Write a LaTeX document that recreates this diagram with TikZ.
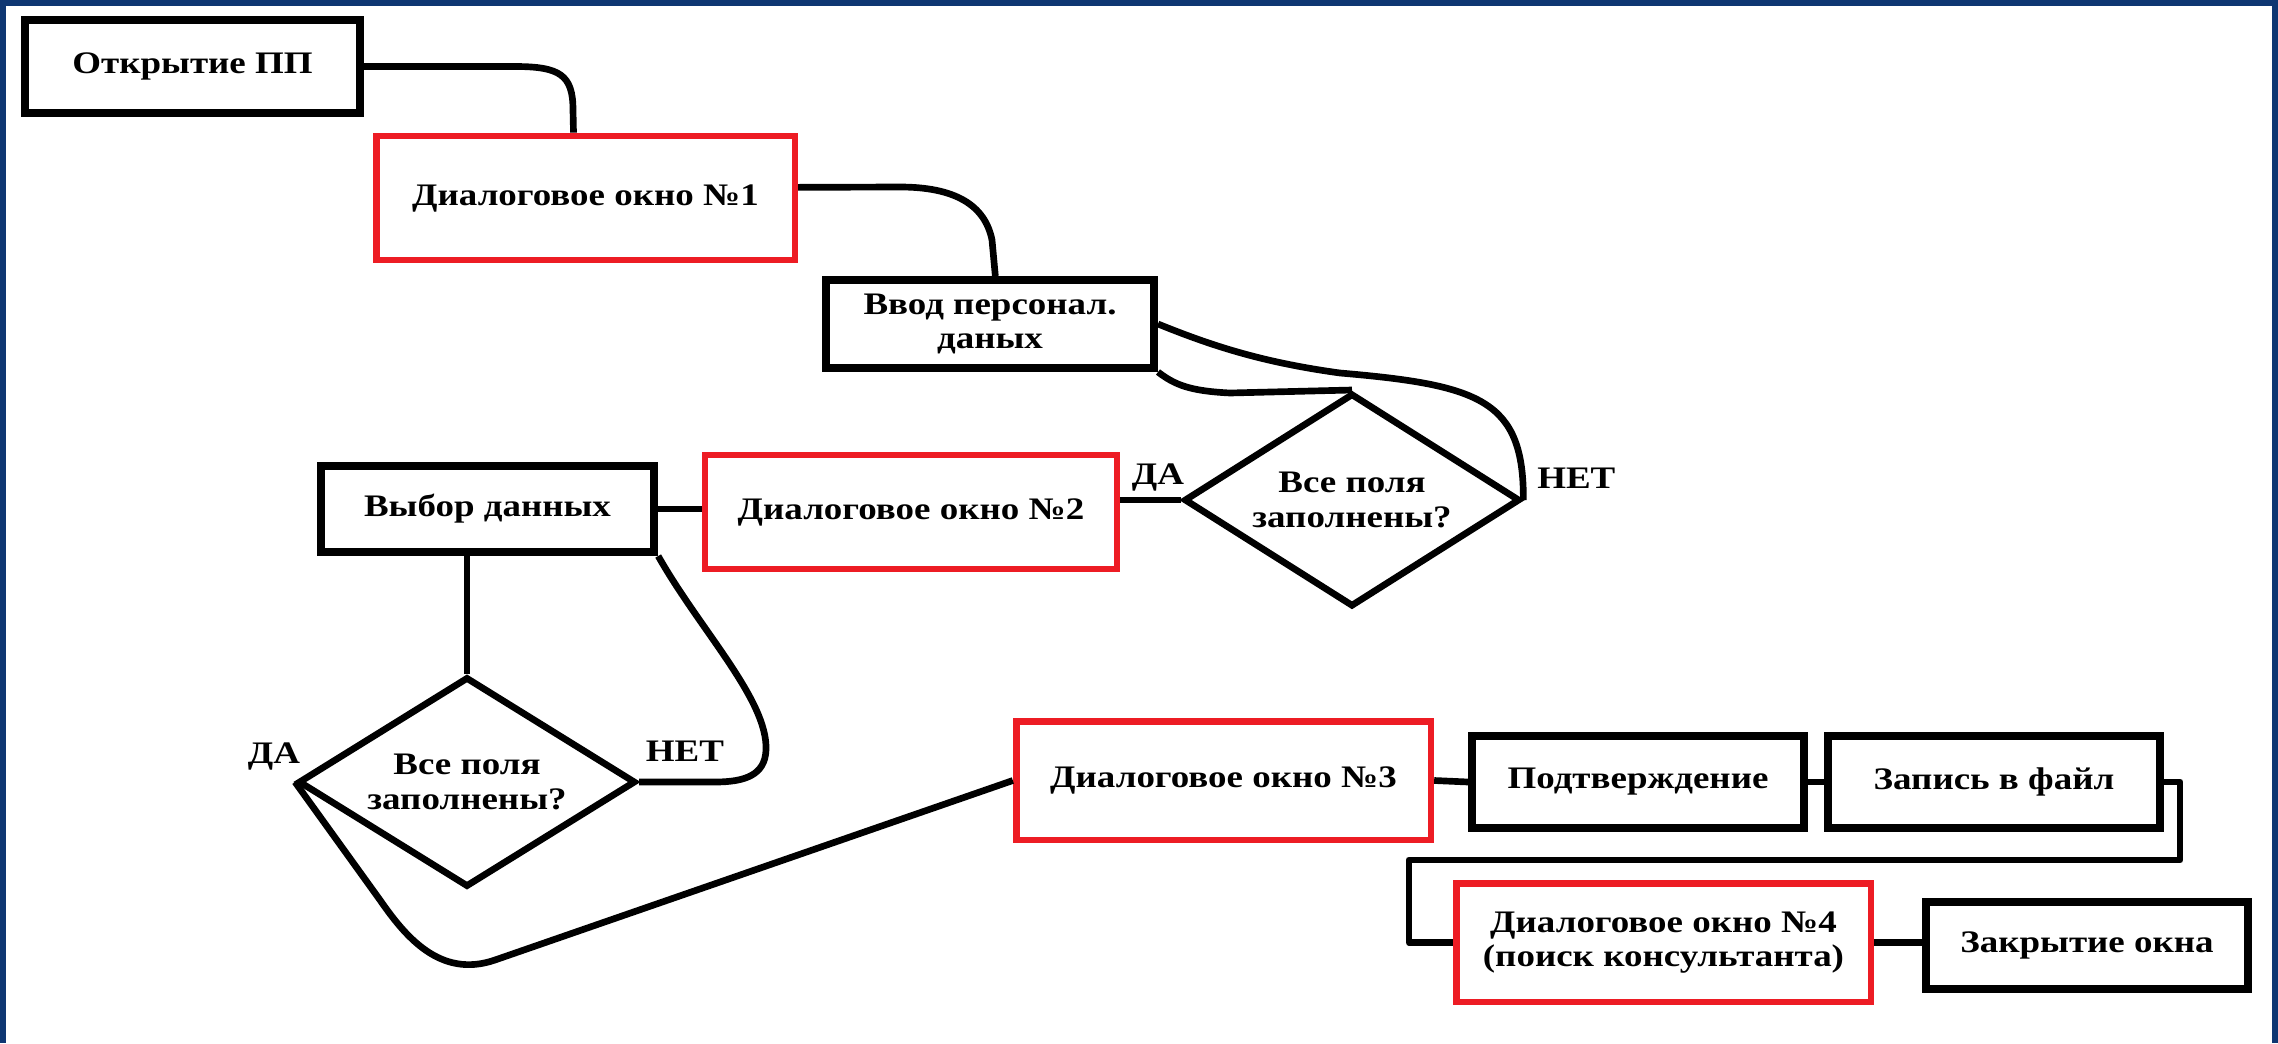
\documentclass[tikz,border=0pt]{standalone}
\usepackage{fontspec}
\setmainfont[FakeStretch=1.18]{Liberation Serif}
\usepackage{tikz}
\usetikzlibrary{shapes.geometric}
\definecolor{frameblue}{HTML}{0E3672}
\definecolor{boxred}{HTML}{ED1C24}

\begin{document}
\begin{tikzpicture}[x=0.75pt,y=0.75pt,yscale=-1,xscale=1,
  blk/.style={draw=black,line width=6pt,fill=white,inner sep=0pt,align=center,font=\fontsize{23.5}{26}\bfseries\selectfont},
  redblk/.style={blk,draw=boxred,line width=5pt},
  rhomb/.style={blk,diamond,aspect=1.6,line width=5pt},
  wire/.style={line width=5pt,line join=round},
  lbl/.style={inner sep=0pt,font=\fontsize{23.5}{26}\bfseries\selectfont}]
%set diagram size: 2278 x 1043
\fill[white] (0,0) rectangle (2278,1043);
\useasboundingbox (0,0) rectangle (2278,1043);

%Shape: Frame
\fill[frameblue] (0,0) rectangle (2278,6);
\fill[frameblue] (0,0) rectangle (6,1043);
\fill[frameblue] (2272,0) rectangle (2278,1043);

%Shape: Boxes
\node[blk,minimum width=251pt,minimum height=70pt] (open) at (192.5,66.5) {Открытие ПП};
\node[redblk,minimum width=314pt,minimum height=93pt] (dlg1) at (585.5,198) {Диалоговое окно №1};
\node[blk,minimum width=246pt,minimum height=66pt] (input) at (990,324) {Ввод персонал.\\даных};
\node[rhomb,minimum width=252pt,minimum height=160pt] (chk1) at (1352,500) {Все поля\\заполнены?};
\node[redblk,minimum width=309pt,minimum height=85.5pt] (dlg2) at (911,512) {Диалоговое окно №2};
\node[blk,minimum width=250pt,minimum height=64.5pt] (select) at (487.5,509) {Выбор данных};
\node[rhomb,minimum width=253pt,minimum height=157.5pt] (chk2) at (467,782) {Все поля\\заполнены?};
\node[redblk,minimum width=311pt,minimum height=89pt] (dlg3) at (1223.5,780.5) {Диалоговое окно №3};
\node[blk,minimum width=249pt,minimum height=69pt] (confirm) at (1638,782) {Подтверждение};
\node[blk,minimum width=249pt,minimum height=69pt] (save) at (1994,782) {Запись в файл};
\node[redblk,minimum width=311pt,minimum height=89pt] (dlg4) at (1663.5,942.5) {Диалоговое окно №4\\(поиск консультанта)};
\node[blk,minimum width=242pt,minimum height=65pt] (close) at (2087,945.5) {Закрытие окна};

%Curve Lines
\draw[wire] (open.east) -- (515,66.5) .. controls (560,66.5) and (573,75) .. (573,110) -- ([xshift=-9pt]dlg1.north);
\draw[wire] ([yshift=-8pt]dlg1.east) -- (900,187) .. controls (955,187) and (985,205) .. (992,240) -- ([xshift=4pt]input.north);
\draw[wire] (input.south east) .. controls (1175,385) and (1190,391) .. (1230,393) -- (chk1.north);
\draw[wire] (input.east) .. controls (1210,345) and (1260,362) .. (1340,373) .. controls (1480,385) and (1524,400) .. (chk1.east);
%Straight Lines
\draw[wire] (chk1.west) -- (chk1.west -| dlg2.east);
\draw[wire] (select.east) -- (select.east -| dlg2.west);
\draw[wire] (chk2.north |- select.south) -- (chk2.north);
\draw[wire] (select.south east) .. controls (700,630) and (768,700) .. (766,750) .. controls (765,775) and (745,782) .. (715,782) -- (chk2.east);
\draw[wire] (chk2.west) -- (380,900) .. controls (405,936) and (440,979) .. (495,960) -- (dlg3.west);
\draw[wire] (dlg3.east) -- (confirm.west);
\draw[wire] (confirm.east) -- (save.west);
\draw[wire] (save.east) -- ++(16,0) |- (1409,860) |- (dlg4.west);
\draw[wire] (dlg4.east) -- (dlg4.east -| close.west);

% Text Node
\node[lbl] (yes1) at (1158,477) {ДА};
\node[lbl,anchor=west] (no1) at (1537,478) {НЕТ};
\node[lbl] (yes2) at (274,756) {ДА};
\node[lbl] (no2) at (685,751) {НЕТ};

\end{tikzpicture}
\end{document}
